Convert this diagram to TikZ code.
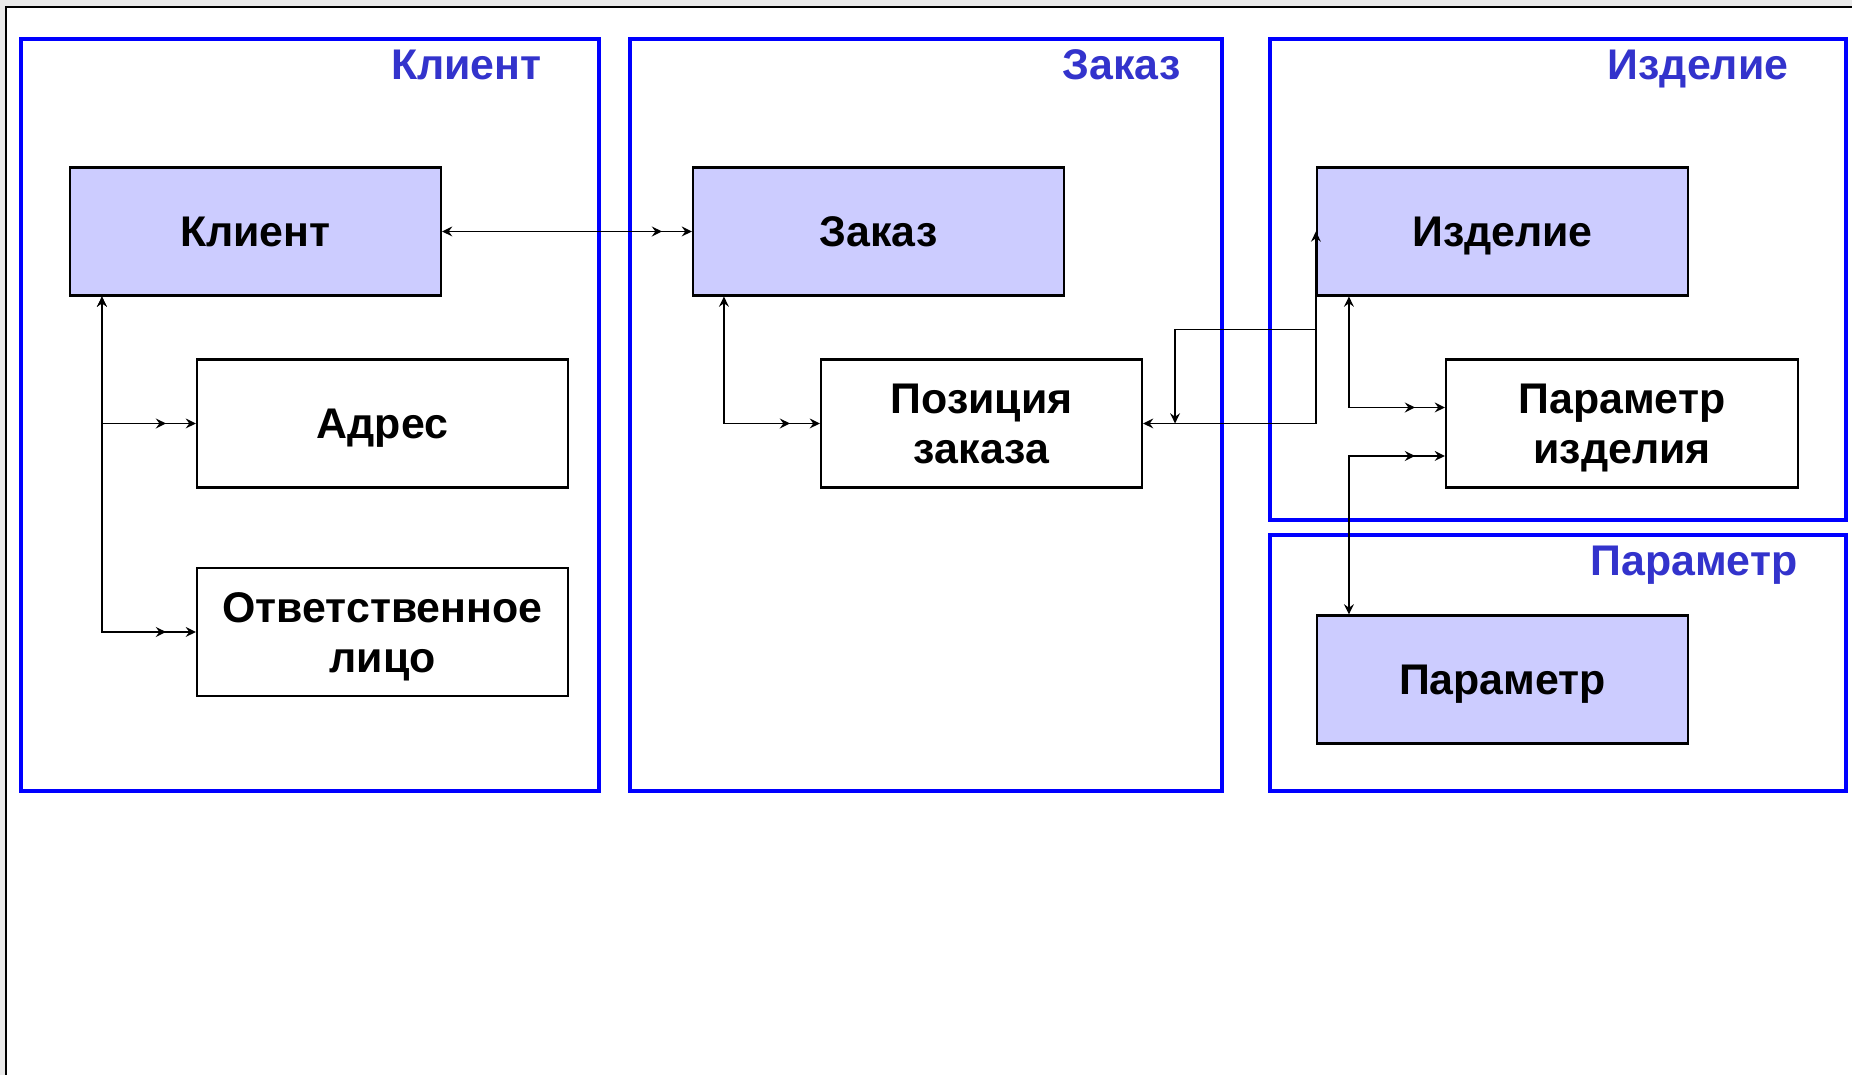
\documentclass[tikz,border=0pt]{standalone}
\usepackage{fontspec}
\setmainfont{Liberation Sans}
\usepackage{xcolor}
\usepackage{tikz}
\usetikzlibrary{arrows.meta}
\usetikzlibrary{calc}
\definecolor{groupblue}{RGB}{0,0,255}
\definecolor{labelblue}{RGB}{51,51,204}
\definecolor{entityfill}{RGB}{204,204,255}
\definecolor{slideshade}{RGB}{234,234,234}

\begin{document}
\begin{tikzpicture}[
	font=\fontsize{12.2}{14.2}\selectfont\bfseries,
	group/.style={draw=groupblue,line width=1pt},
	grouplabel/.style={text=labelblue,anchor=base},
	entity/.style={draw,line width=0.6pt,fill=entityfill,minimum width=3.71cm,minimum height=1.28cm,align=center,text height=8.7pt,text depth=0pt,inner sep=0pt},
	detail/.style={entity,fill=white},
	twoline/.style={text height=22.9pt},
	link/.style={line width=0.55pt},
	onetip/.tip={Stealth[length=2.9pt,width=2.8pt,inset=1pt]},
	manytip/.tip={Stealth[length=2.9pt,width=2.8pt,inset=1pt,sep=5.6pt]Stealth[length=2.9pt,width=2.8pt,inset=1pt]}
	]
	
	\useasboundingbox (0,0) rectangle (18.52,10.75);
	
	% slide edge
	\fill[slideshade] (0,10.68) rectangle (18.52,10.75);
	\fill[slideshade] (0,0) rectangle (0.06,10.75);
	\draw[line width=0.6pt] (0.06,0)--(0.06,10.68)--(18.52,10.68);
	
	% groups
	\draw[group] (0.21,2.84) rectangle (5.99,10.36);
	\draw[group] (6.30,2.84) rectangle (12.22,10.36);
	\draw[group] (12.70,5.55) rectangle (18.46,10.36);
	\draw[group] (12.70,2.84) rectangle (18.46,5.40);
	
	\node [grouplabel] (lblklient) at (4.665,9.95) {Клиент};
	\node [grouplabel] (lblzakaz) at (11.215,9.95) {Заказ};
	\node [grouplabel] (lblizd) at (16.98,9.95) {Изделие};
	\node [grouplabel] (lblparam) at (16.94,4.99) {Параметр};
	
	% entities
	\node [entity] (klient) at (2.555,8.435) {Клиент};
	\node [detail] (adres) at (3.825,6.515) {Адрес};
	\node [detail,twoline] (otv) at (3.825,4.43) {Ответственное\\лицо};
	
	\node [entity] (zakaz) at (8.785,8.435) {Заказ};
	\node [detail,twoline,minimum width=3.21cm] (poz) at (9.815,6.515) {Позиция\\заказа};
	
	\node [entity] (izd) at (15.025,8.435) {Изделие};
	\node [detail,twoline,minimum width=3.52cm] (pizd) at (16.22,6.515) {Параметр\\изделия};
	
	\node [entity] (param) at (15.025,3.955) {Параметр};
	
	\coordinate [] (kldown) at ($(klient.south west)+(0.33,0)$);
	\coordinate [] (zkdown) at ($(zakaz.south west)+(0.32,0)$);
	\coordinate [] (izdown) at ($(izd.south west)+(0.33,0)$);
	\coordinate [] (parup) at ($(param.north west)+(0.33,0)$);
	\coordinate [] (izdleft) at ($(izd.south west)+(0,-0.33)$);
	\coordinate [] (pozright) at ($(poz.east)+(0.32,0)$);
	\coordinate [] (pizdtop) at ($(pizd.west)+(0,0.16)$);
	\coordinate [] (pizdlow) at ($(pizd.west)+(0,-0.325)$);
	
	% links
	\draw[link,onetip-manytip] (klient.east)--(zakaz.west);
	\draw[link,onetip-manytip] (kldown) |- (adres.west);
	\draw[link,onetip-manytip] (kldown) |- (otv.west);
	\draw[link,onetip-manytip] (zkdown) |- (poz.west);
	\draw[link,onetip-onetip] (poz.east) -| (izd.west);
	\draw[link,-onetip] (izdleft) -| (pozright);
	\draw[link,onetip-manytip] (izdown) |- (pizdtop);
	\draw[link,onetip-manytip] (parup) |- (pizdlow);
	
\end{tikzpicture}
\end{document}
